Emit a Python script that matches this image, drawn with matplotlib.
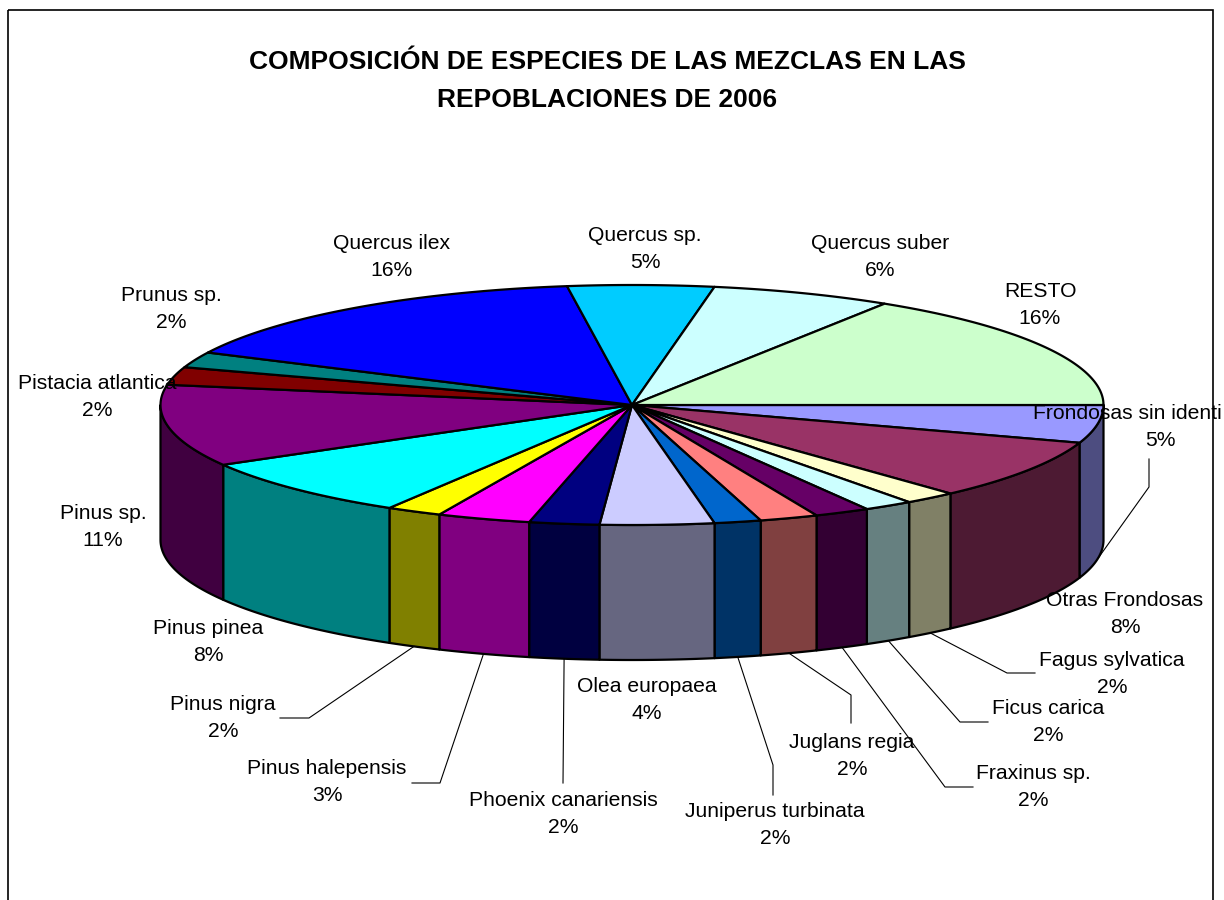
import matplotlib
matplotlib.use("Agg")
import matplotlib.pyplot as plt
import numpy as np
from matplotlib.patches import Polygon, Rectangle

# slices, clockwise from 3 o'clock
species = [
    "Frondosas sin identi", "Otras Frondosas", "Fagus sylvatica", "Ficus carica",
    "Fraxinus sp.", "Juglans regia", "Juniperus turbinata", "Olea europaea",
    "Phoenix canariensis", "Pinus halepensis", "Pinus nigra", "Pinus pinea",
    "Pinus sp.", "Pistacia atlantica", "Prunus sp.", "Quercus ilex",
    "Quercus sp.", "Quercus suber", "RESTO",
]
shares = [5.1, 8.1, 1.8, 1.7, 1.9, 2.0, 1.6, 3.9, 2.4, 3.2,
          1.9, 8.1, 11.0, 2.4, 2.1, 15.6, 5.0, 6.2, 16.0]
pct_labels = [5, 8, 2, 2, 2, 2, 2, 4, 2, 3, 2, 8, 11, 2, 2, 16, 5, 6, 16]
top_colors = [
    "#9999FF", "#993366", "#FFFFCC", "#CCFFFF", "#660066", "#FF8080",
    "#0066CC", "#CCCCFF", "#000080", "#FF00FF", "#FFFF00", "#00FFFF",
    "#800080", "#800000", "#008080", "#0000FF", "#00CCFF", "#CCFFFF",
    "#CCFFCC",
]
title = "COMPOSICIÓN DE ESPECIES DE LAS MEZCLAS EN LAS\nREPOBLACIONES DE 2006"

# layout (pixel coordinates, y down)
cx, cy, rx, ry, depth = 632, 405, 471.5, 120, 135
label_pos = {
    "Frondosas sin identi": (1160, 427), "Otras Frondosas": (1125, 614),
    "Fagus sylvatica": (1112, 674), "Ficus carica": (1048, 722),
    "Fraxinus sp.": (1033, 787), "Juglans regia": (852, 756),
    "Juniperus turbinata": (775, 825), "Olea europaea": (647, 700),
    "Phoenix canariensis": (563, 814), "Pinus halepensis": (327, 782),
    "Pinus nigra": (223, 718), "Pinus pinea": (208, 642),
    "Pinus sp.": (103, 527), "Pistacia atlantica": (97, 397),
    "Prunus sp.": (171, 309), "Quercus ilex": (392, 257),
    "Quercus sp.": (645, 249), "Quercus suber": (880, 257),
    "RESTO": (1040, 305),
}
leaders = {
    "Frondosas sin identi": [(1149, 459), (1149, 487)],
    "Fagus sylvatica": [(1035, 673), (1007, 673)],
    "Ficus carica": [(988, 722), (960, 722)],
    "Fraxinus sp.": [(973, 787), (945, 787)],
    "Juglans regia": [(851, 723), (851, 695)],
    "Juniperus turbinata": [(773, 795), (773, 765)],
    "Phoenix canariensis": [(563, 783)],
    "Pinus halepensis": [(412, 783), (440, 783)],
    "Pinus nigra": [(280, 718), (309, 718)],
}
font = dict(fontsize=15.2, family="Liberation Sans")


def darker(hex_color):
    rgb = np.array(matplotlib.colors.to_rgb(hex_color))
    return rgb * 0.5


def rim(theta, drop=0.0):
    return cx + rx * np.cos(theta), cy + ry * np.sin(theta) + drop


fig = plt.figure(figsize=(12.24, 9), dpi=100)
ax = fig.add_axes([0, 0, 1, 1])
ax.set_xlim(0, 1224)
ax.set_ylim(900, 0)
ax.axis("off")

bounds = np.concatenate([[0], np.cumsum(shares)]) / np.sum(shares) * 2 * np.pi

# outer walls (front half only)
for i in range(len(species)):
    a0, a1 = bounds[i], bounds[i + 1]
    lo, hi = max(a0, 0), min(a1, np.pi)
    if hi <= lo:
        continue
    t = np.linspace(lo, hi, 60)
    xt, yt = rim(t)
    xb, yb = rim(t[::-1], depth)
    pts = np.column_stack([np.r_[xt, xb], np.r_[yt, yb]])
    ax.add_patch(Polygon(pts, closed=True, facecolor=darker(top_colors[i]),
                         edgecolor="black", lw=1.6, joinstyle="round"))

# top faces
for i in range(len(species)):
    t = np.linspace(bounds[i], bounds[i + 1], 120)
    xt, yt = rim(t)
    pts = np.column_stack([np.r_[cx, xt], np.r_[cy, yt]])
    ax.add_patch(Polygon(pts, closed=True, facecolor=top_colors[i],
                         edgecolor="black", lw=1.6, joinstyle="round"))

# labels and leader lines
for i, name in enumerate(species):
    x, y = label_pos[name]
    if name == "Frondosas sin identi":
        # label is cut by the chart edge in the original
        ax.text(1222, y - 13.5, name, ha="right", va="center", **font)
        ax.text(x, y + 13.5, f"{pct_labels[i]}%", ha="center", va="center", **font)
    else:
        ax.text(x, y, f"{name}\n{pct_labels[i]}%", ha="center", va="center",
                linespacing=1.5, **font)
    if name in leaders:
        mid = 0.5 * (bounds[i] + bounds[i + 1])
        end = rim(mid, depth)
        pts = leaders[name] + [end]
        ax.plot([p[0] for p in pts], [p[1] for p in pts], color="black", lw=0.8)

ax.text(607, 81, title, ha="center", va="center", fontsize=19,
        fontweight="bold", family="Liberation Sans", linespacing=1.75)

ax.add_patch(Rectangle((8, 10), 1205, 900, fill=False, edgecolor="black", lw=1.2))

fig.savefig("out.png", dpi=100)
